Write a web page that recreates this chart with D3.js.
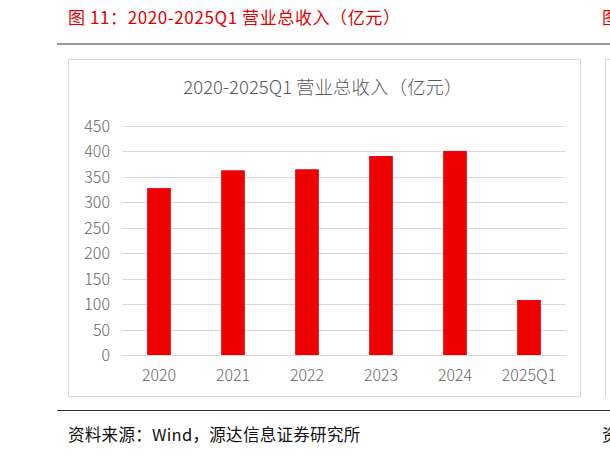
<!DOCTYPE html>
<html><head><meta charset="utf-8">
<script src="https://cdn.jsdelivr.net/npm/d3@7"></script>
<style>body{margin:0;background:#fff;font-family:"Noto Sans CJK SC","Noto Sans",sans-serif;}</style>
</head><body>
<script>
const years = ["2020", "2021", "2022", "2023", "2024", "2025Q1"];
const revenue = [328, 363, 365, 391, 401, 108];
const yTicks = [0, 50, 100, 150, 200, 250, 300, 350, 400, 450];

const svg = d3.select("body").append("svg").attr("width", 610).attr("height", 456);

// header
svg.append("text").attr("x", 68).attr("y", 24).attr("fill", "#e00000")
  .attr("font-size", 17).attr("letter-spacing", 0.6).text("图 11：2020-2025Q1  营业总收入（亿元）");
svg.append("text").attr("x", 602).attr("y", 24).attr("fill", "#e00000")
  .attr("font-size", 17).text("图");
svg.append("line").attr("x1", 57).attr("x2", 610).attr("y1", 44).attr("y2", 44)
  .attr("stroke", "#333").attr("stroke-width", 1);

// chart frame
svg.append("rect").attr("x", 68.5).attr("y", 59.5).attr("width", 512).attr("height", 337)
  .attr("fill", "#fff").attr("stroke", "#d9d9d9");
svg.append("line").attr("x1", 605.5).attr("x2", 605.5).attr("y1", 59).attr("y2", 397)
  .attr("stroke", "#d9d9d9");
svg.append("line").attr("x1", 605).attr("x2", 610).attr("y1", 59.5).attr("y2", 59.5)
  .attr("stroke", "#d9d9d9");

svg.append("text").attr("x", 323).attr("y", 94).attr("text-anchor", "middle")
  .attr("fill", "#595959").attr("font-size", 18.5).attr("font-weight", 300)
  .text("2020-2025Q1 营业总收入（亿元）");

const x = d3.scaleBand().domain(years).range([122, 566]).paddingInner(0.68).paddingOuter(0.34);
const y = d3.scaleLinear().domain([0, 450]).range([355, 126]);

const g = svg.append("g");
g.selectAll(".grid").data(yTicks).enter().append("line")
  .attr("x1", 122).attr("x2", 566)
  .attr("y1", d => Math.round(y(d)) + 0.5).attr("y2", d => Math.round(y(d)) + 0.5)
  .attr("stroke", "#d9d9d9");
g.selectAll(".yl").data(yTicks).enter().append("text")
  .attr("x", 110).attr("y", d => y(d) + 6).attr("text-anchor", "end")
  .attr("fill", "#666").attr("font-size", 16).attr("font-weight", 300).text(d => d);

g.selectAll(".bar").data(revenue).enter().append("rect")
  .attr("x", (d, i) => x(years[i])).attr("width", x.bandwidth())
  .attr("y", d => y(d)).attr("height", d => y(0) - y(d))
  .attr("fill", "#ee0000");

g.selectAll(".xl").data(years).enter().append("text")
  .attr("x", d => x(d) + x.bandwidth() / 2).attr("y", 381).attr("text-anchor", "middle")
  .attr("fill", "#666").attr("font-size", 16).attr("font-weight", 300).text(d => d);

// footer
svg.append("line").attr("x1", 57).attr("x2", 610).attr("y1", 410.5).attr("y2", 410.5)
  .attr("stroke", "#333");
svg.append("text").attr("x", 68).attr("y", 441).attr("fill", "#111").attr("font-size", 16.5)
  .attr("letter-spacing", 0.3).text("资料来源：Wind，源达信息证券研究所");
svg.append("text").attr("x", 602).attr("y", 441).attr("fill", "#111").attr("font-size", 16.5).text("资");
</script>
</body></html>
